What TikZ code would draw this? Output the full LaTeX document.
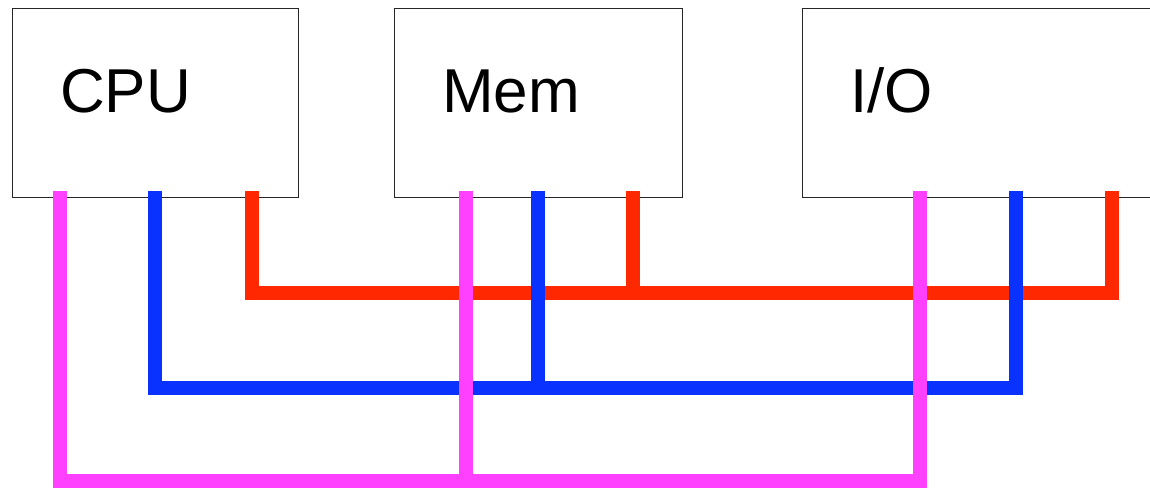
\documentclass[tikz,border=0pt]{standalone}
\usepackage{fontspec}
\setmainfont{Liberation Sans}
\definecolor{busred}{RGB}{255,40,0}
\definecolor{busblue}{RGB}{10,50,255}
\definecolor{buspink}{RGB}{255,64,255}
\tikzset{
  unit/.style={draw=black!85, line width=1.2pt, fill=white, inner sep=0pt,
               minimum height=189pt, anchor=north west},
  unitlabel/.style={anchor=base west, inner sep=0pt, font=\fontsize{62pt}{62pt}\selectfont},
  bus/.style={line width=14pt, line join=miter, line cap=butt},
}
\begin{document}
\begin{tikzpicture}[x=1pt, y=-1pt]
  \useasboundingbox (0,0) rectangle (1150,489);
  \clip (0,0) rectangle (1150,489);

  % units
  \node[unit, minimum width=286pt] (cpu) at (12,8) {};
  \node[unit, minimum width=288pt] (mem) at (394,8) {};
  \node[unit, minimum width=400pt] (io)  at (802,8) {};

  \node[unitlabel] (cpulbl) at (60,113) {CPU};
  \node[unitlabel] (memlbl) at (442,113) {Mem};
  \node[unitlabel] (iolbl)  at (850,113) {I/O};

  % taps on each unit (top ends of the bus wires)
  \coordinate (cpuR) at (252,191);
  \coordinate (cpuB) at (155,191);
  \coordinate (cpuP) at (60,191);
  \coordinate (memR) at (633,191);
  \coordinate (memB) at (538,191);
  \coordinate (memP) at (466,191);
  \coordinate (ioR)  at (1112,191);
  \coordinate (ioB)  at (1016,191);
  \coordinate (ioP)  at (920,191);

  % bus levels
  \def\yR{293}
  \def\yB{388}
  \def\yP{481}

  % red bus
  \draw[bus, busred] (cpuR) -- (cpuR |- 0,\yR) -- (ioR |- 0,\yR) -- (ioR);
  \draw[bus, busred] (memR) -- (memR |- 0,\yR);

  % blue bus
  \draw[bus, busblue] (cpuB) -- (cpuB |- 0,\yB) -- (ioB |- 0,\yB) -- (ioB);
  \draw[bus, busblue] (memB) -- (memB |- 0,\yB);

  % magenta bus
  \draw[bus, buspink] (cpuP) -- (cpuP |- 0,\yP) -- (ioP |- 0,\yP) -- (ioP);
  \draw[bus, buspink] (memP) -- (memP |- 0,\yP);
\end{tikzpicture}
\end{document}
